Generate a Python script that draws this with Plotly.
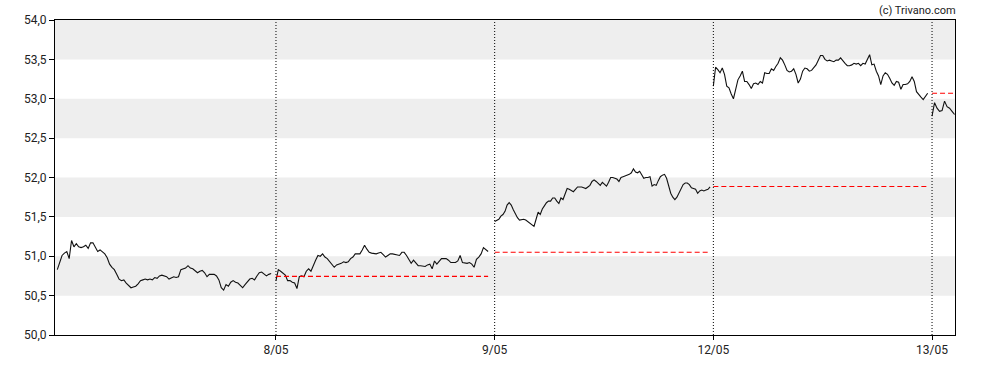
import numpy as np
import plotly.graph_objects as go

# ---- data ----
day_labels = ["8/05", "9/05", "12/05", "13/05"]
day_ticks = [1, 2, 3, 4]

day1 = [50.83, 50.92, 51.01, 51.04, 51.06, 50.97, 51.2, 51.12, 51.16, 51.12, 51.11, 51.12, 51.14,
        51.1, 51.17, 51.17, 51.11, 51.06, 51.08, 51.05, 51.03, 50.98, 50.9, 50.86, 50.83, 50.77,
        50.71, 50.69, 50.7, 50.66, 50.63, 50.6, 50.61, 50.62, 50.65, 50.69, 50.7, 50.71, 50.7,
        50.71, 50.7, 50.73, 50.72, 50.75, 50.76, 50.75, 50.74, 50.71, 50.73, 50.74, 50.73, 50.74,
        50.83, 50.84, 50.85, 50.88, 50.85, 50.84, 50.81, 50.79, 50.81, 50.82, 50.79, 50.74, 50.77,
        50.77, 50.77, 50.75, 50.7, 50.6, 50.57, 50.64, 50.62, 50.67, 50.69, 50.67, 50.66, 50.63,
        50.6, 50.64, 50.68, 50.71, 50.72, 50.7, 50.75, 50.79, 50.8, 50.78, 50.75, 50.77, 50.78]
day2 = [50.69, 50.83, 50.81, 50.78, 50.76, 50.69, 50.69, 50.67, 50.66, 50.59, 50.74, 50.75,
        50.74, 50.81, 50.84, 50.81, 50.89, 50.95, 51.01, 51.0, 51.03, 50.99, 50.97, 50.93, 50.9,
        50.86, 50.89, 50.9, 50.91, 50.93, 50.92, 50.93, 50.97, 50.99, 51.03, 51.03, 51.03, 51.08,
        51.14, 51.09, 51.05, 51.04, 51.03, 51.03, 51.04, 51.05, 51.02, 50.99, 51.01, 51.03, 51.03,
        51.02, 51.02, 51.01, 51.05, 51.05, 51.01, 50.95, 50.91, 50.95, 50.91, 50.88, 50.88, 50.87,
        50.87, 50.89, 50.9, 50.84, 50.94, 50.9, 50.93, 50.97, 50.97, 50.97, 50.95, 50.92, 50.92,
        50.92, 50.94, 51.01, 50.92, 50.91, 50.91, 50.92, 50.9, 50.86, 50.96, 50.99, 51.03, 51.11,
        51.08, 51.06]
day3 = [51.44, 51.45, 51.47, 51.51, 51.53, 51.57, 51.65, 51.68, 51.65, 51.59, 51.53, 51.49,
        51.46, 51.47, 51.47, 51.46, 51.44, 51.42, 51.41, 51.38, 51.47, 51.56, 51.53, 51.6, 51.64,
        51.68, 51.7, 51.7, 51.74, 51.74, 51.7, 51.67, 51.74, 51.72, 51.79, 51.86, 51.85, 51.84,
        51.82, 51.85, 51.88, 51.88, 51.88, 51.87, 51.86, 51.88, 51.9, 51.95, 51.97, 51.95, 51.92,
        51.9, 51.94, 51.92, 51.89, 51.94, 52.0, 52.0, 51.99, 51.98, 51.95, 52.0, 52.01, 52.02,
        52.03, 52.04, 52.06, 52.11, 52.07, 52.06, 52.08, 52.04, 51.99, 52.0, 52.0, 52.01, 51.89,
        51.91, 51.9, 51.96, 52.01, 52.03, 52.04, 51.99, 51.89, 51.8, 51.75, 51.72, 51.75, 51.8,
        51.84, 51.91, 51.93, 51.93, 51.91, 51.87, 51.86, 51.85, 51.8, 51.83, 51.84, 51.83, 51.84,
        51.85, 51.88]
day4 = [53.16, 53.4, 53.37, 53.33, 53.39, 53.31, 53.16, 53.14, 53.06, 53.0, 53.12, 53.24, 53.29,
        53.35, 53.22, 53.22, 53.18, 53.13, 53.19, 53.2, 53.18, 53.22, 53.2, 53.33, 53.32, 53.32,
        53.38, 53.36, 53.41, 53.45, 53.52, 53.49, 53.43, 53.36, 53.34, 53.35, 53.38, 53.31, 53.2,
        53.25, 53.35, 53.39, 53.38, 53.35, 53.36, 53.39, 53.43, 53.49, 53.55, 53.55, 53.5, 53.48,
        53.49, 53.48, 53.47, 53.49, 53.49, 53.52, 53.48, 53.45, 53.42, 53.42, 53.43, 53.45, 53.44,
        53.45, 53.42, 53.45, 53.44, 53.5, 53.56, 53.43, 53.44, 53.35, 53.29, 53.18, 53.29, 53.33,
        53.31, 53.26, 53.2, 53.17, 53.22, 53.21, 53.12, 53.18, 53.18, 53.19, 53.22, 53.28, 53.22,
        53.09, 53.05, 53.02, 52.99, 53.03, 53.07]
day5 = [52.78, 52.95, 52.88, 52.84, 52.85, 52.97, 52.9, 52.88, 52.84, 52.8]

prev_close = [50.745, 51.05, 51.885, 53.07]  # reference close lines for days 2..5

band_edges = [(50.5, 51.0), (51.5, 52.0), (52.5, 53.0), (53.5, 54.0)]
y_ticks = [50.0, 50.5, 51.0, 51.5, 52.0, 52.5, 53.0, 53.5, 54.0]

days = [day1, day2, day3, day4, day5]
day_span = [0.978, 0.97, 0.985, 0.98, 0.103]

fig = go.Figure()

for d, (vals, span) in enumerate(zip(days, day_span)):
    xs = np.linspace(d, d + span, len(vals))
    fig.add_trace(go.Scatter(x=xs, y=vals, mode="lines",
                             line=dict(color="#111111", width=1.1),
                             hoverinfo="skip", showlegend=False))

# previous close dashed lines
for i, pc in enumerate(prev_close):
    d = i + 1
    span = day_span[d]
    fig.add_trace(go.Scatter(x=[d, d + span], y=[pc, pc], mode="lines",
                             line=dict(color="#ff0000", width=1.1, dash="5px,3px"),
                             hoverinfo="skip", showlegend=False))

shapes = []
for lo, hi in band_edges:
    shapes.append(dict(type="rect", xref="paper", yref="y", x0=0, x1=1, y0=lo, y1=hi,
                       fillcolor="#eeeeee", line=dict(width=0), layer="below"))
for t in day_ticks:
    shapes.append(dict(type="line", xref="x", yref="paper", x0=t, x1=t, y0=0, y1=1,
                       line=dict(color="#000000", width=1, dash="1px,2px"), layer="above"))

fig.update_layout(
    width=988, height=370,
    margin=dict(l=55, r=33, t=20, b=35),
    paper_bgcolor="white", plot_bgcolor="white",
    separators=",.",
    shapes=shapes,
    hovermode=False,
    font=dict(family="Roboto, Arial, sans-serif", size=12, color="#222222"),
    annotations=[dict(text="(c) Trivano.com", xref="paper", yref="paper",
                      x=1.0, y=1.0, xanchor="right", yanchor="bottom", xshift=3, yshift=1,
                      showarrow=False, font=dict(size=11, color="#222222"))],
)
fig.update_xaxes(range=[-0.0105, 4.105], tickmode="array", tickvals=day_ticks,
                 ticktext=day_labels, ticks="outside", ticklen=4, tickcolor="#000",
                 showgrid=False, zeroline=False, showline=True, linecolor="#000",
                 linewidth=1, mirror=True, automargin=False)
fig.update_yaxes(range=[50, 54], tickmode="array", tickvals=y_ticks,
                 tickformat=".1f", ticks="outside", ticklen=5, tickcolor="#000",
                 showgrid=False, zeroline=False, showline=True, linecolor="#000",
                 linewidth=1, mirror=True, automargin=False)

# remove the page's default body margin so the chart fills the 988x370 window
fig.write_html("out.html", config={"displayModeBar": False},
               post_script="document.body.style.margin='0px';")
